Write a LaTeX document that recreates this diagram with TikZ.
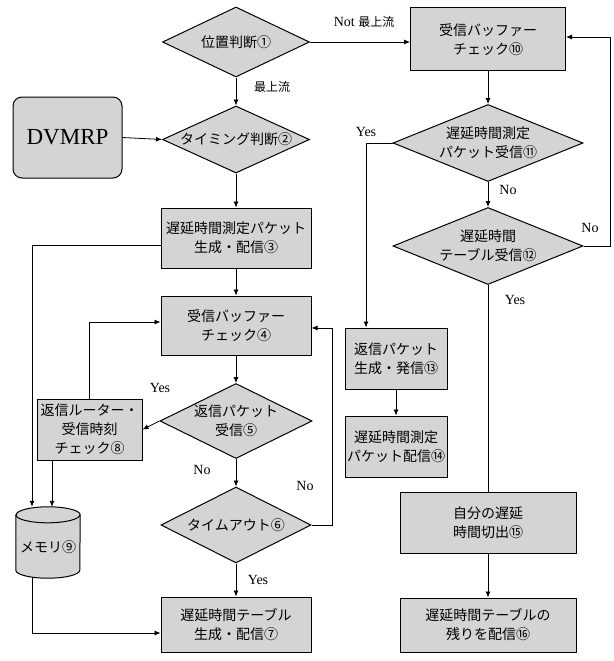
\documentclass[tikz,border=0pt]{standalone}
\usepackage{fontspec}
\setmainfont{Liberation Serif}
\newfontfamily\jp{Noto Sans CJK JP}
\usetikzlibrary{shapes.geometric,arrows.meta}
\newcommand\jpt{\jp\fontsize{14}{19}\selectfont}
\newcommand\jps{\jp\fontsize{12}{14}\selectfont}
\begin{document}
\begin{tikzpicture}[x=1pt,y=-1pt,
  shapefill/.style={fill=black!17},
  box/.style={draw,line width=1pt,shapefill,inner sep=0pt,align=center,font=\jpt},
  dia/.style={draw,line width=1pt,shapefill,shape=diamond,inner sep=0pt,align=center,font=\jpt},
  conn/.style={line width=0.8pt},
  arr/.style={conn,-{Latex[length=6pt,width=5pt]}},
  lbl/.style={inner sep=0pt,font=\fontsize{14}{16}\selectfont}
]
\useasboundingbox (0,0) rectangle (613,661);

% left column
\node[dia,minimum width=147pt,minimum height=70pt,aspect=2.1] (d1) at (236,42) {位置判断①};
\node[dia,minimum width=147pt,minimum height=67pt,aspect=2.2] (d2) at (236,139.5) {タイミング判断②};
\node[draw,line width=1pt,shapefill,rounded corners=9pt,minimum width=109pt,minimum height=81pt,inner sep=0pt,font=\fontsize{23}{25}\selectfont] (dv) at (67.5,137.5) {DVMRP};
\node[box,minimum width=150pt,minimum height=60pt] (b3) at (236,238) {遅延時間測定パケット\\生成・配信③};
\node[box,minimum width=150pt,minimum height=59pt] (b4) at (236,325.5) {受信バッファー\\チェック④};
\node[dia,minimum width=152pt,minimum height=75pt,aspect=2.03] (d5) at (236,421) {返信パケット\\受信⑤};
\node[dia,minimum width=150pt,minimum height=76pt,aspect=2] (d6) at (236,525) {タイムアウト⑥};
\node[box,minimum width=150pt,minimum height=55pt] (b7) at (236,624.5) {遅延時間テーブル\\生成・配信⑦};
\node[box,minimum width=105pt,minimum height=61pt] (b8) at (89.5,429.5) {返信ルーター・\\受信時刻\\チェック⑧};

% memory cylinder
\node[inner sep=0pt,minimum width=64pt,minimum height=71pt,font=\jpt] (mem) at (48,542.5) {};
\path[draw,line width=1pt,shapefill] ([yshift=-8pt]mem.north west) -- ([yshift=8pt]mem.south west)
  arc[start angle=180,end angle=360,x radius=32pt,y radius=8pt]
  -- ([yshift=-8pt]mem.north east)
  arc[start angle=0,end angle=180,x radius=32pt,y radius=8pt] -- cycle;
\draw[line width=1pt] ([yshift=-8pt]mem.north west) arc[start angle=180,end angle=360,x radius=32pt,y radius=8pt];
\node[inner sep=0pt,font=\jpt] (memt) at ([yshift=-5pt]mem.center) {メモリ⑨};

% right column
\node[box,minimum width=155pt,minimum height=63pt] (b10) at (488,39.5) {受信バッファー\\チェック⑩};
\node[dia,minimum width=190pt,minimum height=77pt,aspect=2.47] (d11) at (488,143) {遅延時間測定\\パケット受信⑪};
\node[dia,minimum width=190pt,minimum height=77pt,aspect=2.47] (d12) at (488,246) {遅延時間\\テーブル受信⑫};
\node[box,minimum width=102pt,minimum height=61pt] (b13) at (396,358.5) {返信パケット\\生成・発信⑬};
\node[box,minimum width=102pt,minimum height=61pt] (b14) at (396,446.5) {遅延時間測定\\パケット配信⑭};
\node[box,minimum width=176pt,minimum height=61pt] (b15) at (488,522.5) {自分の遅延\\時間切出⑮};
\node[box,minimum width=176pt,minimum height=54pt] (b16) at (488,625) {遅延時間テーブルの\\残りを配信⑯};

% connectors left
\draw[arr] (d1.south) -- (d2.north);
\draw[arr] (dv.east) -- (d2.west);
\draw[arr] (d2.south) -- (b3.north);
\draw[arr] (b3.south) -- (b4.north);
\draw[arr] (b4.south) -- (d5.north);
\draw[arr] (d5.west) -- (b8.east);
\draw[arr] (b8.north) |- ([yshift=3.5pt]b4.west);
\draw[arr] (d5.south) -- (d6.north);
\draw[arr] (d6.east) -- ++(21,0) |- ([yshift=-2.5pt]b4.east);
\draw[arr] (d6.south) -- (b7.north);
\draw[arr] ([yshift=-7pt]b3.west) -| ([xshift=-16pt]mem.north);
\draw[arr] ([xshift=-37.5pt]b8.south) -- ([xshift=4pt]mem.north);
\draw[arr] ([xshift=-16pt,yshift=1pt]mem.south) |- ([yshift=-8.5pt]b7.west);

% connectors right
\coordinate (rt) at (610,246);
\draw[arr] (d1.east) -- (d1.east -| b10.west);
\draw[arr] (b10.south) -- (d11.north);
\draw[arr] (d11.west) -| ([xshift=-30pt]b13.north);
\draw[arr] (d11.south) -- (d12.north);
\draw[arr] (d12.east) -- (rt) |- ([yshift=2.5pt]b10.east);
\draw[conn] (d12.south) -- (b15.north);
\draw[arr] (b13.south) -- (b14.north);
\draw[arr] (b15.south) -- (b16.north);

% labels
\node[lbl] (l1) at (272,87) {\jps 最上流};
\node[lbl] (l2) at (364,22) {Not {\jps 最上流}};
\node[lbl] (l3) at (160,388) {Yes};
\node[lbl] (l4) at (202,470) {No};
\node[lbl] (l5) at (305,486) {No};
\node[lbl] (l6) at (258,580) {Yes};
\node[lbl] (l7) at (366,132) {Yes};
\node[lbl] (l8) at (508,190) {No};
\node[lbl] (l9) at (590,228) {No};
\node[lbl] (l10) at (515,300) {Yes};
\end{tikzpicture}
\end{document}
